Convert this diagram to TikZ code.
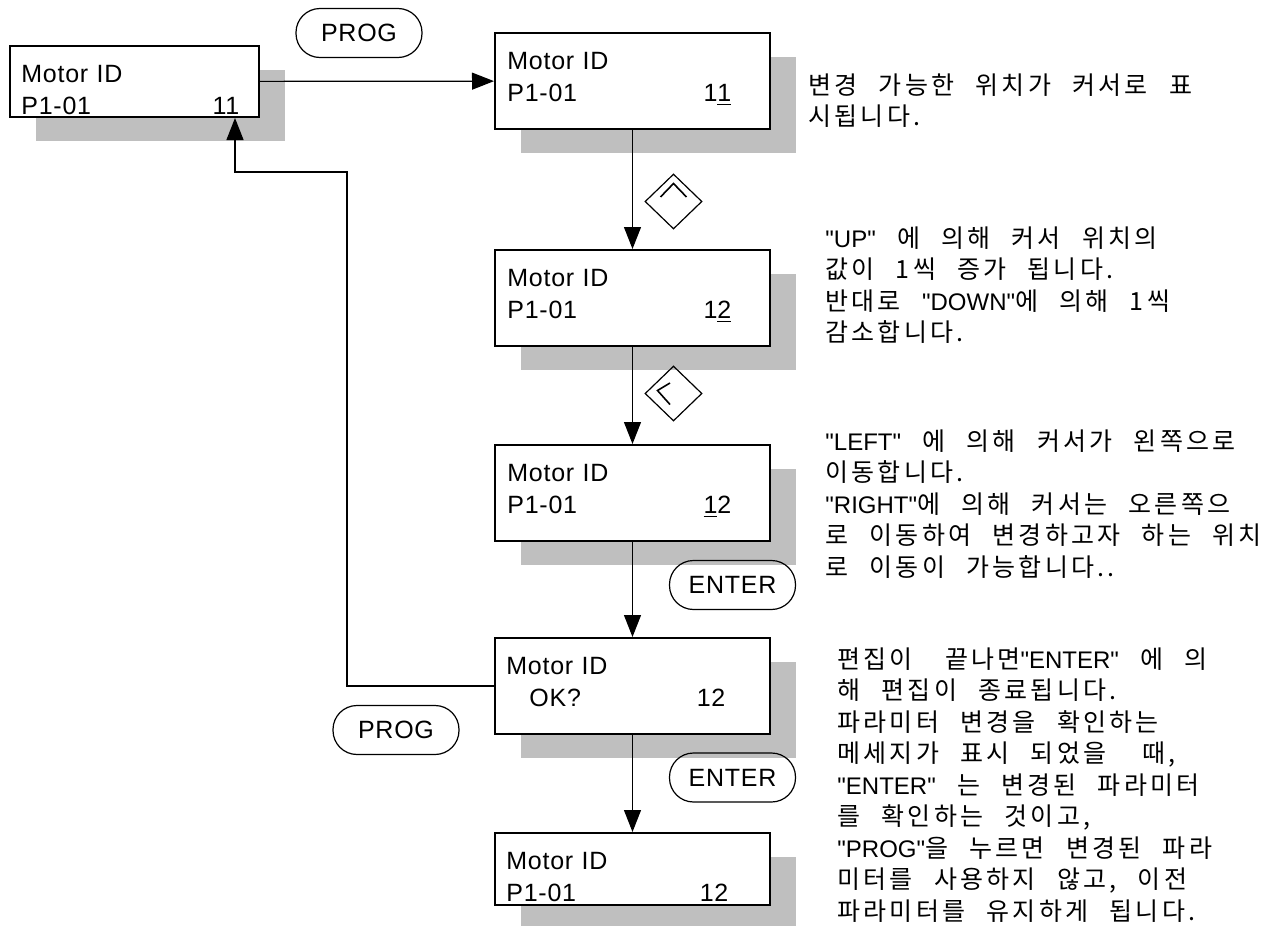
\documentclass[tikz,border=0pt]{standalone}
\usepackage{fontspec}
\setmainfont{Liberation Sans}[Ligatures=TeXOff]
\newfontfamily\lcdfont{Liberation Sans}[Ligatures=TeXOff,LetterSpace=3]
\newfontfamily\kr{Noto Sans CJK KR}[LetterSpace=13,WordSpace=2.4]
\usetikzlibrary{arrows.meta,positioning,shapes.geometric,shadows}

\newcommand\btn[1]{{\rmfamily\fontsize{12pt}{15.75pt}\selectfont"#1"}}
\newcommand\rval[1]{\hspace{0pt plus 1fill}#1}

\begin{document}
\begin{tikzpicture}[
  x=0.5pt, y=-0.5pt,
  lcd/.style={draw,line width=1pt,fill=white,minimum width=137.5pt,minimum height=48pt,inner sep=0pt,
    drop shadow={shadow xshift=13pt,shadow yshift=-12pt,fill=black!25,opacity=1}},
  readout/.style={align=left,text width=112pt,inner sep=0pt,font=\lcdfont\fontsize{12.5pt}{16pt}\selectfont},
  key/.style={draw,line width=0.6pt,rounded corners=12pt,minimum width=63pt,minimum height=24.5pt,
    inner sep=0pt,font=\lcdfont\fontsize{12.5pt}{15pt}\selectfont},
  arrowkey/.style={draw,line width=0.6pt,diamond,aspect=1,minimum width=28.5pt,minimum height=27.5pt,inner sep=0pt},
  note/.style={align=left,inner sep=0pt,anchor=north west,font=\kr\fontsize{12.5pt}{15.75pt}\selectfont},
  flow/.style={-{Triangle[length=11pt,width=8.5pt]},line width=0.6pt}
]
  \useasboundingbox (0,0) rectangle (1282,926);

  % screens
  \node[lcd,minimum width=124.5pt,minimum height=35.5pt] (b0) at (134.5,81.5) {};
  \node[lcd] (b1) at (632.5,81) {};
  \node[lcd,below=59.5pt of b1] (b2) {};
  \node[lcd,below=48.5pt of b2] (b3) {};
  \node[lcd,below=47.5pt of b3] (b4) {};
  \node[lcd,minimum height=36pt,below=48.5pt of b4] (b5) {};

  \node[readout,text width=109pt,below right=10pt and 6pt of b0.north west] (t0) {Motor ID\\P1-01\rval{11}};
  \node[readout,below right=10pt and 6.5pt of b1.north west] (t1) {Motor ID\\P1-01\rval{1\underline{1}}};
  \node[readout,below right=10pt and 6.5pt of b2.north west] (t2) {Motor ID\\P1-01\rval{1\underline{2}}};
  \node[readout,below right=10pt and 6.5pt of b3.north west] (t3) {Motor ID\\P1-01\rval{\underline{1}2}};
  \node[readout,text width=109.5pt,below right=10pt and 6pt of b4.north west] (t4) {Motor ID\\\hspace*{11.5pt}OK?\rval{12}};
  \node[readout,text width=111pt,below right=10pt and 6pt of b5.north west] (t5) {Motor ID\\P1-01\rval{12}};

  % keys
  \node[key] (prog1) at (359,33) {PROG};
  \node[arrowkey] (up) at (673.5,201.5) {};
  \node[arrowkey] (left) at (673.5,393.5) {};
  \node[key] (enter1) at (732.5,585) {ENTER};
  \node[key] (enter2) at (732.5,777.5) {ENTER};
  \node[key] (prog2) at (396,730) {PROG};
  \draw[line width=0.8pt] ([shift={(-13,-4.5)}]up.center) -- ([shift={(0,-18)}]up.center) -- ([shift={(13,-4.5)}]up.center);
  \draw[line width=0.8pt] ([shift={(-3.5,-10.5)}]left.center) -- ([shift={(-16,-3)}]left.center) -- ([shift={(-3.5,11)}]left.center);

  % connectors
  \coordinate (back) at (347,172);
  \draw[flow] (b0) -- (b1);
  \draw[flow] (b1) -- (b2);
  \draw[flow] (b2) -- (b3);
  \draw[flow] (b3) -- (b4);
  \draw[flow] (b4) -- (b5);
  \draw[flow] (b4.west) -| (back) -| ([xshift=-12.5pt]b0.south east);

  % notes
  \node[note] (n1) at (808,73) {변경 가능한 위치가 커서로 표\\시됩니다.};
  \node[note] (n2) at (825,226) {\btn{UP} 에 의해 커서 위치의\\값이 1씩 증가 됩니다.\\반대로 \btn{DOWN}에 의해 1씩\\감소합니다.};
  \node[note] (n3) at (825,429) {\btn{LEFT} 에 의해 커서가 왼쪽으로\\이동합니다.\\\btn{RIGHT}에 의해 커서는 오른쪽으\\로 이동하여 변경하고자 하는 위치\\로 이동이 가능합니다..};
  \node[note] (n4) at (837,647) {편집이\hspace{5.5pt} 끝나면\btn{ENTER} 에 의\\해 편집이 종료됩니다.\\파라미터 변경을 확인하는\\메세지가 표시 되었을\hspace{7.5pt} 때,\\\btn{ENTER} 는 변경된 파라미터\\를 확인하는 것이고,\\\btn{PROG}을 누르면 변경된 파라\\미터를 사용하지 않고, 이전\\파라미터를 유지하게 됩니다.};
\end{tikzpicture}
\end{document}
